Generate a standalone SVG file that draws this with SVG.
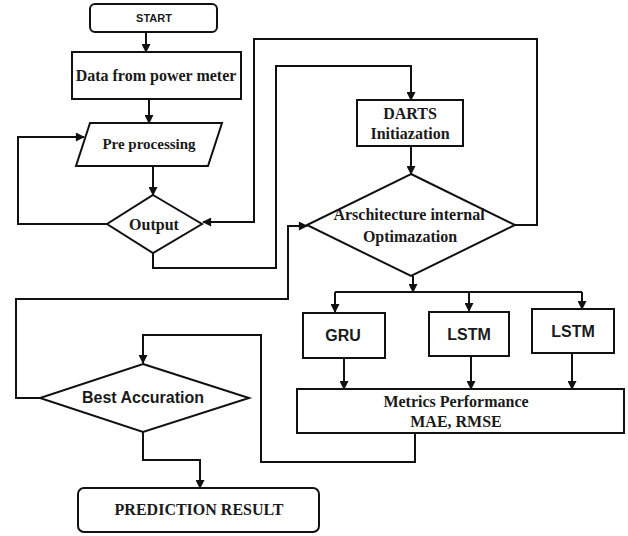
<svg xmlns="http://www.w3.org/2000/svg" width="628" height="536" viewBox="0 0 628 536">
<style>
.n{fill:#fff;stroke:#111;stroke-width:2}
.c{fill:none;stroke:#111;stroke-width:2}
.s{font-family:"Liberation Serif",serif;font-weight:bold;font-size:16px;fill:#1a1a1a;text-anchor:middle}
.a{font-family:"Liberation Sans",Arial,sans-serif;font-weight:bold;font-size:16px;fill:#1a1a1a;text-anchor:middle}
</style>
<defs>
<marker id="ah" viewBox="0 0 10 10" refX="9" refY="5" markerWidth="10" markerHeight="9" markerUnits="userSpaceOnUse" orient="auto">
<path d="M0,0 L10,5 L0,10 Z" fill="#111"/>
</marker>
</defs>
<rect width="628" height="536" fill="#fff"/>
<g id="connectors" class="c" marker-end="url(#ah)">
<path d="M146,32 V52"/>
<path d="M149,99 V123"/>
<path d="M153,166 V195"/>
<path d="M107,224 H18 V137 H84"/>
<path d="M153,253 V268 H276 V66 H411 V100"/>
<path d="M515,225 H537 V39 H254 V222 H203"/>
<path d="M411,146 V174"/>
<path d="M413,276 V292"/>
<path d="M335,292 V312"/>
<path d="M469,292 V311"/>
<path d="M582,292 V309"/>
<path d="M335,292 H582" marker-end="none"/>
<path d="M344,358 V389"/>
<path d="M471,356 V389"/>
<path d="M572,353 V389"/>
<path d="M415,433 V462 H261 V335 H143 V363"/>
<path d="M40,398 H16 V299 H288 V226 H307"/>
<path d="M143,432 V460 H200 V488"/>
</g>
<g id="start"><rect class="n" x="90" y="4" width="127" height="28" rx="5"/><text class="a" x="154" y="22" style="font-size:11px">START</text></g>
<g id="data"><rect class="n" x="72" y="52" width="169" height="47"/><text class="s" x="156" y="81">Data from power meter</text></g>
<g id="pre"><polygon class="n" points="90,123 222,123 208,166 76,166"/><text class="s" x="149" y="149" style="font-size:15px">Pre processing</text></g>
<g id="output"><polygon class="n" points="153,195 202,224 153,253 107,224"/><text class="s" x="154" y="230">Output</text></g>
<g id="darts"><rect class="n" x="357" y="100" width="106" height="46"/><text class="s" x="410" y="119">DARTS</text><text class="s" x="410" y="139">Initiazation</text></g>
<g id="arch"><polygon class="n" points="411,174 515,225 411,276 307,225"/><text class="s" x="409" y="220">Arschitecture internal</text><text class="s" x="410" y="242">Optimazation</text></g>
<g id="gru"><rect class="n" x="303" y="313" width="82" height="45"/><text class="a" x="343" y="341">GRU</text></g>
<g id="lstm1"><rect class="n" x="429" y="312" width="80" height="44"/><text class="a" x="469" y="340">LSTM</text></g>
<g id="lstm2"><rect class="n" x="532" y="309" width="82" height="44"/><text class="a" x="573" y="337">LSTM</text></g>
<g id="metrics"><rect class="n" x="297" y="389" width="327" height="44"/><text class="s" x="456" y="407">Metrics Performance</text><text class="s" x="456" y="427">MAE, RMSE</text></g>
<g id="best"><polygon class="n" points="143,364 249,398 143,432 40,398"/><text class="a" x="143" y="403">Best Accuration</text></g>
<g id="prediction"><rect class="n" x="78" y="488" width="241" height="44" rx="6"/><text class="s" x="199" y="515">PREDICTION RESULT</text></g>
</svg>
